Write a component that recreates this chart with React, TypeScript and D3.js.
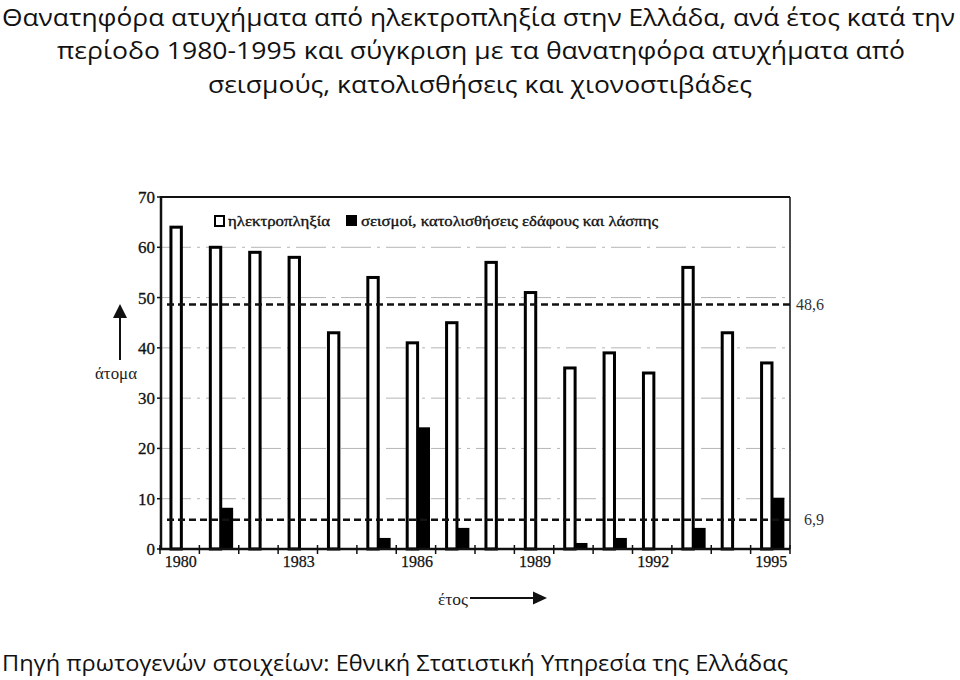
import React from "react";
import * as d3 from "d3";

const years = ["1980","1981","1982","1983","1984","1985","1986","1987","1988","1989","1990","1991","1992","1993","1994","1995"];
const electrocution = [64, 60, 59, 58, 43, 54, 41, 45, 57, 51, 36, 39, 35, 56, 43, 37];
const disasters = [0, 8, 0, 0, 0, 2, 24, 4, 0, 0, 1, 2, 0, 4, 0, 10];
const yTicks = [0, 10, 20, 30, 40, 50, 60, 70];
const gridTicks = [10, 20, 30, 40, 50, 60];
const xTickLabels = ["1980", "1983", "1986", "1989", "1992", "1995"];
const refLineValues = [48.6, 5.8];
const refLineLabels = ["48,6", "6,9"];
const legendLabels = ["ηλεκτροπληξία", "σεισμοί, κατολισθήσεις εδάφους και λάσπης"];
const titleLines = [
  "Θανατηφόρα ατυχήματα από ηλεκτροπληξία στην Ελλάδα, ανά έτος κατά την",
  "περίοδο 1980-1995 και σύγκριση με τα θανατηφόρα ατυχήματα από",
  "σεισμούς, κατολισθήσεις και χιονοστιβάδες",
];
const footerText = "Πηγή πρωτογενών στοιχείων: Εθνική Στατιστική Υπηρεσία της Ελλάδας";
const yAxisLabel = "άτομα";
const xAxisLabel = "έτος";

const serif = "'Liberation Serif', 'DejaVu Serif', serif";
const sans = "'Open Sans', 'Noto Sans', sans-serif";

export default function App() {
  const left = 161;
  const right = 790;
  const top = 197;
  const bottom = 549;

  const y = d3.scaleLinear().domain([0, 70]).range([bottom, top]);
  const x = d3.scaleBand<string>().domain(years).range([160, 790]).paddingInner(0).paddingOuter(0);
  const bw = x.bandwidth();
  const inner = d3.scaleBand<string>().domain(["e", "s"]).range([bw * 0.24, bw * 0.87]);
  const ib = inner.bandwidth();

  const boundaries = years.map((yr) => x(yr) as number).concat([790]);

  const titleSpans = [
    { x: 2, w: 953, y: 26 },
    { x: 57, w: 848, y: 59 },
    { x: 208, w: 544, y: 93 },
  ];

  return (
    <svg
      width={960}
      height={680}
      style={{ position: "absolute", left: 0, top: 0, background: "#fff" }}
    >
      <rect x={0} y={0} width={960} height={680} fill="#fff" />

      {/* Title */}
      {titleLines.map((t, i) => (
        <text
          key={i}
          x={titleSpans[i].x}
          y={titleSpans[i].y}
          fontFamily={sans}
          fontSize={24}
          fill="#111"
          textLength={titleSpans[i].w}
          lengthAdjust="spacingAndGlyphs"
        >
          {t}
        </text>
      ))}

      {/* Grid lines */}
      {gridTicks.map((v) => (
        <line
          key={v}
          x1={left}
          x2={right}
          y1={y(v)}
          y2={y(v)}
          stroke="#b5b5b5"
          strokeWidth={1}
          strokeDasharray="30 6 3 6"
        />
      ))}

      {/* Frame top & right */}
      <line x1={left} x2={right} y1={y(70)} y2={y(70)} stroke="#111" strokeWidth={2} />
      <line x1={right} x2={right} y1={y(70)} y2={y(0)} stroke="#111" strokeWidth={1.5} />

      {/* Bars */}
      {years.map((yr, i) => {
        const x0 = x(yr) as number;
        const ex = x0 + (inner("e") as number);
        const sx = x0 + (inner("s") as number);
        return (
          <g key={yr}>
            <rect
              x={ex + 1.5}
              y={y(electrocution[i])}
              width={ib - 2}
              height={y(0) - y(electrocution[i])}
              fill="#fff"
              stroke="#000"
              strokeWidth={3}
            />
            {disasters[i] > 0 && (
              <rect
                x={sx - 0.5}
                y={y(disasters[i]) - 1}
                width={ib}
                height={y(0) - y(disasters[i]) + 1}
                fill="#000"
              />
            )}
          </g>
        );
      })}

      {/* Reference dashed lines */}
      {refLineValues.map((v, i) => (
        <g key={i}>
          <line
            x1={167}
            x2={794}
            y1={y(v)}
            y2={y(v)}
            stroke="#111"
            strokeWidth={2.5}
            strokeDasharray="7 4"
          />
          <text
            x={824}
            y={y(v)}
            dy="0.35em"
            textAnchor="end"
            fontFamily={serif}
            fontSize={16}
            fill="#333"
          >
            {refLineLabels[i]}
          </text>
        </g>
      ))}

      {/* Axes */}
      <line x1={left} x2={left} y1={y(70) - 1} y2={y(0) + 1} stroke="#111" strokeWidth={2.5} />
      <line x1={left - 2} x2={right} y1={y(0)} y2={y(0)} stroke="#111" strokeWidth={2.5} />
      {yTicks.map((v) => (
        <g key={v}>
          <line x1={left - 4} x2={left} y1={y(v)} y2={y(v)} stroke="#111" strokeWidth={1.5} />
          <text
            x={155}
            y={y(v)}
            dy="0.35em"
            textAnchor="end"
            fontFamily={serif}
            fontSize={17}
            fill="#111"
            stroke="#111"
            strokeWidth={0.3}
          >
            {v}
          </text>
        </g>
      ))}
      {boundaries.map((bx, i) => (
        <line key={i} x1={bx} x2={bx} y1={y(0) - 4} y2={y(0) + 5} stroke="#111" strokeWidth={1.5} />
      ))}
      {xTickLabels.map((lab) => (
        <text
          key={lab}
          x={(x(lab) as number) + bw / 2 + 1}
          y={567}
          textAnchor="middle"
          fontFamily={serif}
          fontSize={16}
          fill="#111"
          stroke="#111"
          strokeWidth={0.25}
        >
          {lab}
        </text>
      ))}

      {/* Legend */}
      <rect x={215} y={216} width={9} height={10} fill="#fff" stroke="#000" strokeWidth={2} />
      <text
        x={228}
        y={226}
        fontFamily={serif}
        fontSize={15}
        fill="#111"
        stroke="#111"
        strokeWidth={0.35}
        textLength={102}
        lengthAdjust="spacingAndGlyphs"
      >
        {legendLabels[0]}
      </text>
      <rect x={346} y={215} width={11} height={11} fill="#000" />
      <text
        x={361}
        y={226}
        fontFamily={serif}
        fontSize={15}
        fill="#111"
        stroke="#111"
        strokeWidth={0.35}
        textLength={297}
        lengthAdjust="spacingAndGlyphs"
      >
        {legendLabels[1]}
      </text>

      {/* Y axis label with arrow */}
      <line x1={120} x2={120} y1={360} y2={316} stroke="#111" strokeWidth={2} />
      <path d="M113,318 L127,318 L120,304 Z" fill="#111" />
      <text
        x={116}
        y={379}
        textAnchor="middle"
        fontFamily={serif}
        fontSize={16}
        fill="#222"
        textLength={42}
        lengthAdjust="spacingAndGlyphs"
      >
        {yAxisLabel}
      </text>

      {/* X axis label with arrow */}
      <text
        x={438}
        y={605}
        fontFamily={serif}
        fontSize={16}
        fill="#222"
        textLength={30}
        lengthAdjust="spacingAndGlyphs"
      >
        {xAxisLabel}
      </text>
      <line x1={470} x2={536} y1={598} y2={598} stroke="#111" strokeWidth={2} />
      <path d="M533,591.5 L547,598 L533,604.5 Z" fill="#111" />

      {/* Footer */}
      <text
        x={2}
        y={671}
        fontFamily={sans}
        fontSize={22}
        fill="#111"
        textLength={786}
        lengthAdjust="spacingAndGlyphs"
      >
        {footerText}
      </text>
    </svg>
  );
}
